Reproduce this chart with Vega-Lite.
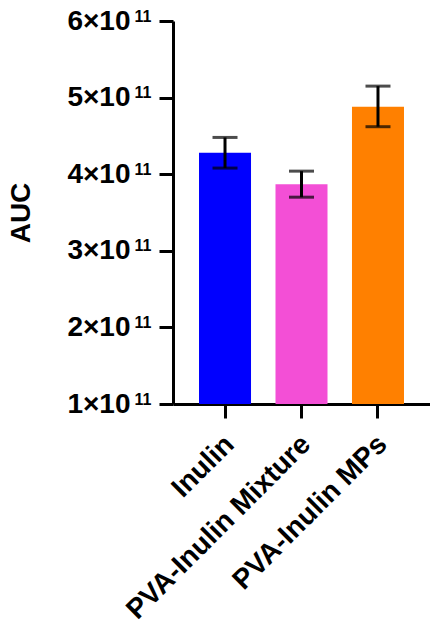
{
  "$schema": "https://vega.github.io/schema/vega-lite/v6.json",
  "autosize": "none",
  "width": 257,
  "height": 383,
  "padding": {"left": 173, "top": 21, "right": 0, "bottom": 227},
  "background": "white",
  "config": {
    "view": {"stroke": null},
    "font": "Liberation Sans"
  },
  "data": {
    "values": [
      {"group": "Inulin", "auc": 428000000000, "lo": 408000000000, "hi": 448000000000},
      {"group": "PVA-Inulin Mixture", "auc": 387000000000, "lo": 370000000000, "hi": 404000000000},
      {"group": "PVA-Inulin MPs", "auc": 488000000000, "lo": 462000000000, "hi": 515000000000}
    ]
  },
  "encoding": {
    "x": {
      "field": "group",
      "type": "nominal",
      "sort": null,
      "scale": {"paddingInner": 0.32, "paddingOuter": 0.34},
      "axis": {
        "title": null,
        "labelAngle": -45,
        "labelFont": "Liberation Sans",
        "labelFontWeight": "bold",
        "labelFontSize": 28,
        "labelColor": "black",
        "labelPadding": 12,
        "labelOffset": -5,
        "tickSize": 14,
        "tickWidth": 3,
        "tickColor": "black",
        "domainWidth": 3,
        "domainColor": "black",
        "labelLimit": 400
      }
    }
  },
  "resolve": {"scale": {"y": "shared"}, "axis": {"y": "independent"}},
  "layer": [
    {
      "mark": {"type": "bar"},
      "encoding": {
        "y": {
          "field": "auc",
          "type": "quantitative",
          "scale": {"domain": [100000000000, 600000000000], "zero": false, "nice": false},
          "axis": {
            "orient": "left",
            "title": "AUC",
            "titleFont": "Liberation Sans",
            "titleFontWeight": "bold",
            "titleFontSize": 28,
            "titleColor": "black",
            "titlePadding": 31,
            "values": [100000000000, 200000000000, 300000000000, 400000000000, 500000000000, 600000000000],
            "labelExpr": "format(datum.value / 1e11, 'd') + '×10'",
            "labelFont": "Liberation Sans",
            "labelFontWeight": "bold",
            "labelFontSize": 28,
            "labelColor": "black",
            "labelPadding": 29,
            "tickSize": 14,
            "tickWidth": 3,
            "tickColor": "black",
            "domainWidth": 3,
            "domainColor": "black",
            "grid": false
          }
        },
        "y2": {"datum": 100000000000},
        "color": {
          "field": "group",
          "type": "nominal",
          "scale": {
            "domain": ["Inulin", "PVA-Inulin Mixture", "PVA-Inulin MPs"],
            "range": ["#0000FF", "#F34FD6", "#FF8000"]
          },
          "legend": null
        }
      }
    },
    {
      "mark": {"type": "rule", "color": "black", "strokeWidth": 3},
      "encoding": {
        "y": {
          "field": "lo",
          "type": "quantitative",
          "axis": {
            "orient": "left",
            "title": null,
            "values": [100000000000, 200000000000, 300000000000, 400000000000, 500000000000, 600000000000],
            "labelExpr": "'11'",
            "labelFont": "Liberation Sans",
            "labelFontWeight": "bold",
            "labelFontSize": 16,
            "labelColor": "black",
            "labelPadding": 22,
            "labelOffset": -5,
            "ticks": false,
            "tickSize": 0,
            "domain": false,
            "grid": false
          }
        },
        "y2": {"field": "hi"}
      }
    },
    {
      "mark": {"type": "tick", "color": "black", "thickness": 3, "size": 25},
      "encoding": {"y": {"field": "lo", "type": "quantitative", "axis": null}}
    },
    {
      "mark": {"type": "tick", "color": "black", "thickness": 3, "size": 25},
      "encoding": {"y": {"field": "hi", "type": "quantitative", "axis": null}}
    }
  ]
}
